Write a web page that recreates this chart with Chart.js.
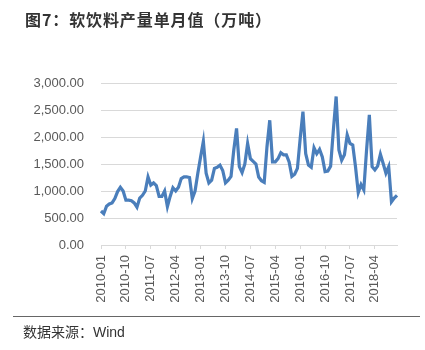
<!DOCTYPE html>
<html>
<head>
<meta charset="utf-8">
<script src="https://cdn.jsdelivr.net/npm/chart.js@4"></script>
<style>
  html, body { margin: 0; padding: 0; background: #fff; }
  #wrap { position: relative; width: 425px; height: 350px; }
  #title { position: absolute; left: 25px; top: 7px; font: bold 16px "Noto Sans CJK SC", sans-serif; letter-spacing: 0.9px; color: #333; white-space: nowrap; }
  #rule { position: absolute; left: 13px; top: 316px; width: 407px; height: 0; border-top: 1px solid #666; }
  #source { position: absolute; left: 23px; top: 321px; font: 14px "Noto Sans CJK SC", sans-serif; color: #333; white-space: nowrap; }
  #source span { font-family: "Liberation Sans", Arial, sans-serif; }
  canvas { position: absolute; left: 0; top: 0; }
</style>
</head>
<body>
<div id="wrap">
  <canvas id="prodChart" width="425" height="350"></canvas>
  <div id="title">图7：软饮料产量单月值（万吨）</div>
  <div id="rule"></div>
  <div id="source">数据来源：<span>Wind</span></div>
</div>
<script>
// months 2010-01 .. 2018-12
const years = [2010, 2011, 2012, 2013, 2014, 2015, 2016, 2017, 2018];
const months = ["01", "02", "03", "04", "05", "06", "07", "08", "09", "10", "11", "12"];
const labels = [];
years.forEach(y => months.forEach(m => labels.push(y + "-" + m)));

// 软饮料产量单月值（万吨）
const output = [
  630, 580, 720, 760, 780, 860, 990, 1070, 1000, 830, 830, 820,
  780, 700, 870, 920, 1000, 1260, 1110, 1150, 1100, 900, 900, 1000,
  710, 900, 1060, 1000, 1070, 1230, 1260, 1260, 1250, 860, 1000, 1330,
  1630, 1920, 1330, 1150, 1200, 1420, 1440, 1480, 1380, 1150, 1200, 1270,
  1760, 2160, 1450, 1340, 1500, 1880, 1600, 1550, 1500, 1260, 1190, 1160,
  1820, 2310, 1540, 1540, 1600, 1710, 1670, 1670, 1540, 1270, 1310, 1420,
  1970, 2470, 1690, 1480, 1440, 1800, 1690, 1770, 1630, 1360, 1370, 1460,
  2130, 2750, 1760, 1570, 1670, 2040, 1880, 1850, 1450, 970, 1120, 1020,
  1760, 2410, 1450, 1390, 1460, 1680, 1510, 1330, 1450, 800, 870, 920
];

const yTicks = [0, 500, 1000, 1500, 2000, 2500, 3000];
const labelStep = 9;

Chart.defaults.font.family = "'Liberation Sans', Arial, sans-serif";
Chart.defaults.font.size = 13;
Chart.defaults.color = "#595959";

const ctx = document.getElementById("prodChart").getContext("2d");
const prodChart = new Chart(ctx, {
  type: "line",
  data: {
    labels: labels,
    datasets: [
      {
        data: output,
        borderColor: "#4A7EBB",
        borderWidth: 3.2,
        pointRadius: 0,
        tension: 0,
        fill: false,
      },
    ],
  },
  options: {
    responsive: false,
    animation: false,
    layout: { padding: { top: 83, right: 28, bottom: 45, left: 0 } },
    plugins: {
      legend: { display: false },
      tooltip: { enabled: false },
    },
    scales: {
      x: {
        offset: false,
        grid: {
          drawOnChartArea: false,
          drawTicks: true,
          tickLength: 4,
          color: c => (c.index % labelStep === 0 ? "#d9d9d9" : "transparent"),
        },
        border: { color: "#d9d9d9" },
        ticks: {
          autoSkip: false,
          maxRotation: 90,
          minRotation: 90,
          padding: 6,
          callback: (v, i) => (i % labelStep === 0 ? labels[i] : ""),
        },
        afterFit: s => { s.height = 60; },
      },
      y: {
        min: 0,
        max: 3000,
        afterBuildTicks: s => { s.ticks = yTicks.map(v => ({ value: v })); },
        grid: { color: "#d9d9d9", drawTicks: false },
        border: { display: false },
        ticks: {
          padding: 17,
          callback: v => v.toLocaleString("en-US", { minimumFractionDigits: 2, maximumFractionDigits: 2 }),
        },
        afterFit: s => { s.width = 101; },
      },
    },
  },
});
</script>
</body>
</html>
